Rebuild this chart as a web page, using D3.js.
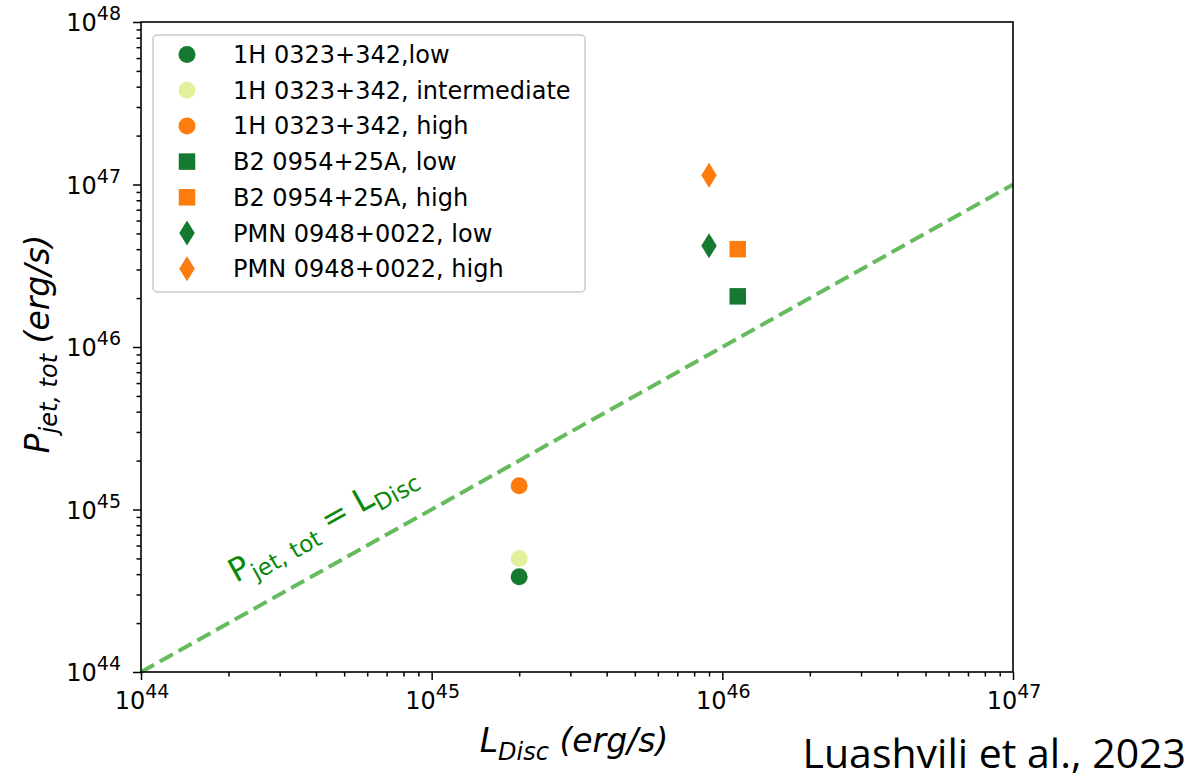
<!DOCTYPE html>
<html>
<head>
<meta charset="utf-8">
<script src="https://cdn.jsdelivr.net/npm/d3@7"></script>
<style>
  body { margin: 0; background: #fff; }
  text { font-family: "DejaVu Sans", sans-serif; }
</style>
</head>
<body>
<div id="chart"></div>
<script>
// data
var seriesNames = ["1H 0323+342,low", "1H 0323+342, intermediate", "1H 0323+342, high",
                   "B2 0954+25A, low", "B2 0954+25A, high",
                   "PMN 0948+0022, low", "PMN 0948+0022, high"];
var seriesShape = ["circle", "circle", "circle", "square", "square", "diamond", "diamond"];
var seriesColor = ["#157a30", "#e4f09b", "#fd7c0e", "#157a30", "#fd7c0e", "#157a30", "#fd7c0e"];
var lDisc = [2.0e45, 2.0e45, 2.0e45, 1.13e46, 1.13e46, 9.0e45, 9.0e45];
var pJet  = [3.85e44, 5.0e44, 1.4e45, 2.05e46, 4.0e46, 4.2e46, 1.14e47];
var xTicks = [44, 45, 46, 47];
var yTicks = [44, 45, 46, 47, 48];
var equalLine = [1e44, 1e47];

var margin = {top: 22, right: 179, bottom: 110, left: 141},
    width = 1192 - margin.left - margin.right,
    height = 782 - margin.top - margin.bottom;

var x = d3.scaleLog().domain([1e44, 1e47]).range([0, width]);
var y = d3.scaleLog().domain([1e44, 1e48]).range([height, 0]);

var svg = d3.select("#chart").append("svg")
    .attr("width", 1192).attr("height", 782)
  .append("g")
    .attr("transform", "translate(" + margin.left + "," + margin.top + ")");

function minorTicks(lo, hi) {
  var out = [];
  for (var e = lo; e < hi; e++) {
    for (var m = 2; m < 10; m++) out.push(m * Math.pow(10, e));
  }
  return out;
}

// y = x line
var line = d3.line()
    .x(function(d) { return x(d); })
    .y(function(d) { return y(d); });

svg.append("path")
    .attr("d", line(equalLine))
    .style("fill", "none")
    .style("stroke", "#66bb5e")
    .style("stroke-width", "4px")
    .style("stroke-dasharray", "15,6.5");

// annotation along the line
var ang = -Math.atan((y(1e44) - y(1e45)) / (x(1e45) - x(1e44))) * 180 / Math.PI;
var ann = svg.append("text")
    .attr("transform", "translate(" + (236 - margin.left) + "," + (583 - margin.top) + ") rotate(" + ang + ")")
    .style("fill", "#0a8a0a")
    .style("font-size", "32px");
ann.append("tspan").text("P");
ann.append("tspan").attr("dy", 8).style("font-size", "23px").text("jet, tot");
ann.append("tspan").attr("dy", -8).text(" = L");
ann.append("tspan").attr("dy", 8).style("font-size", "23px").text("Disc");

// markers
var symbols = {
  circle: d3.symbol().type(d3.symbolCircle).size(Math.PI * 8.5 * 8.5),
  square: d3.symbol().type(d3.symbolSquare).size(16.5 * 16.5)
};
function diamondPath(w, h) {
  return "M0," + (-h / 2) + "L" + (w / 2) + ",0L0," + (h / 2) + "L" + (-w / 2) + ",0Z";
}
function markerPath(shape) {
  return shape === "diamond" ? diamondPath(15.5, 25) : symbols[shape]();
}

svg.selectAll(".pt")
    .data(seriesNames)
  .enter().append("path")
    .attr("class", "pt")
    .attr("transform", function(d, i) { return "translate(" + x(lDisc[i]) + "," + y(pJet[i]) + ")"; })
    .attr("d", function(d, i) { return markerPath(seriesShape[i]); })
    .style("fill", function(d, i) { return seriesColor[i]; });

// axes
var xMajor = xTicks.map(function(e) { return Math.pow(10, e); });
var yMajor = yTicks.map(function(e) { return Math.pow(10, e); });

svg.append("g")
    .attr("class", "x axis")
    .attr("transform", "translate(0," + height + ")")
    .call(d3.axisBottom(x).tickValues(minorTicks(44, 47)).tickSize(4.5).tickFormat(""));
svg.append("g")
    .attr("class", "x axis")
    .attr("transform", "translate(0," + height + ")")
    .call(d3.axisBottom(x).tickValues(xMajor).tickSize(8).tickFormat(""));
svg.append("g")
    .attr("class", "y axis")
    .call(d3.axisLeft(y).tickValues(minorTicks(44, 48)).tickSize(4.5).tickFormat(""));
svg.append("g")
    .attr("class", "y axis")
    .call(d3.axisLeft(y).tickValues(yMajor).tickSize(8).tickFormat(""));

svg.selectAll(".axis .domain").remove();
svg.selectAll(".axis line").style("stroke", "#000").style("stroke-width", "1.5px");

svg.append("rect")
    .attr("width", width).attr("height", height)
    .style("fill", "none").style("stroke", "#000").style("stroke-width", "1.6px");

// tick labels with superscripts
function powLabel(sel, e) {
  sel.append("tspan").text("10");
  sel.append("tspan").attr("dy", -11).style("font-size", "19px").text(e);
}
xTicks.forEach(function(e) {
  var t = svg.append("text")
      .attr("x", x(Math.pow(10, e)) + 1)
      .attr("y", height + 37)
      .attr("text-anchor", "middle")
      .style("font-size", "24px");
  powLabel(t, e);
});
yTicks.forEach(function(e) {
  var t = svg.append("text")
      .attr("x", -20)
      .attr("y", y(Math.pow(10, e)) + 9)
      .attr("text-anchor", "end")
      .style("font-size", "24px");
  powLabel(t, e);
});

// axis titles
var xl = svg.append("text")
    .attr("x", width / 2 - 3)
    .attr("y", height + 80)
    .attr("text-anchor", "middle")
    .style("font-size", "33px")
    .style("font-style", "italic");
xl.append("tspan").text("L");
xl.append("tspan").attr("dy", 8).style("font-size", "24px").text("Disc");
xl.append("tspan").attr("dy", -8).text(" (erg/s)");

var yl = svg.append("text")
    .attr("transform", "translate(" + (-92) + "," + (height / 2 - 3) + ") rotate(-90)")
    .attr("text-anchor", "middle")
    .style("font-size", "33px")
    .style("font-style", "italic");
yl.append("tspan").text("P");
yl.append("tspan").attr("dy", 8).style("font-size", "24px").text("jet, tot");
yl.append("tspan").attr("dy", -8).text(" (erg/s)");

// legend
var legend = svg.append("g").attr("transform", "translate(12,13)");
legend.append("rect")
    .attr("width", 432).attr("height", 257)
    .attr("rx", 4)
    .style("fill", "#fff").style("fill-opacity", 0.8)
    .style("stroke", "#cccccc").style("stroke-width", "1.5px");

var rows = legend.selectAll(".row")
    .data(seriesNames)
  .enter().append("g")
    .attr("class", "row")
    .attr("transform", function(d, i) { return "translate(0," + (19.5 + i * 35.7) + ")"; });
rows.append("path")
    .attr("transform", "translate(34,0)")
    .attr("d", function(d, i) { return markerPath(seriesShape[i]); })
    .style("fill", function(d, i) { return seriesColor[i]; });
rows.append("text")
    .attr("x", 80)
    .attr("y", 8.5)
    .style("font-size", "24px")
    .text(function(d) { return d; });

// citation
d3.select("svg").append("text")
    .attr("x", 1186)
    .attr("y", 768)
    .attr("text-anchor", "end")
    .style("font-family", "'Open Sans', 'Liberation Sans', sans-serif")
    .style("font-size", "41px")
    .text("Luashvili et al., 2023");
</script>
</body>
</html>
